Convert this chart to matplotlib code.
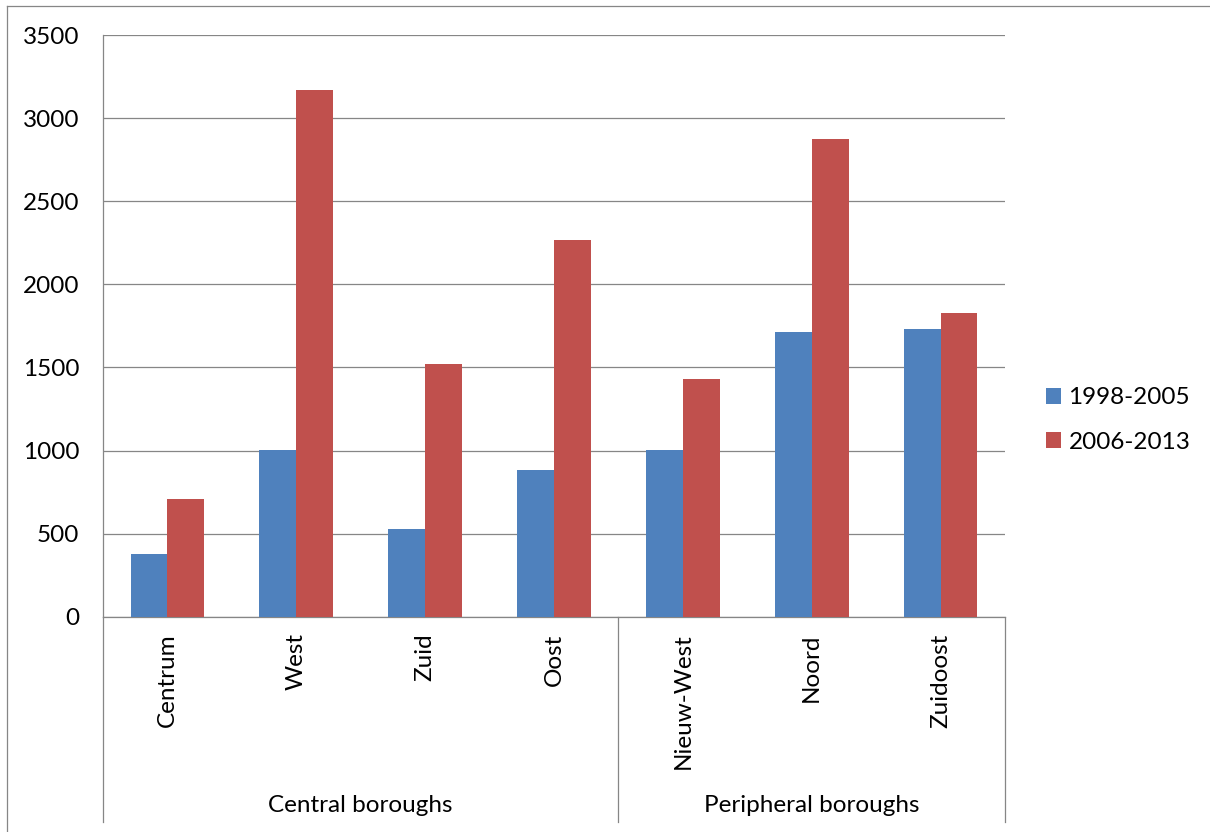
import matplotlib
matplotlib.use('Agg')
import matplotlib.pyplot as plt
import numpy as np
from matplotlib import transforms
from matplotlib.lines import Line2D

boroughs = ['Centrum', 'West', 'Zuid', 'Oost', 'Nieuw-West', 'Noord', 'Zuidoost']
groups = ['Central boroughs', 'Peripheral boroughs']
group_sizes = [4, 3]
series_names = ['1998-2005', '2006-2013']
v1998_2005 = [380, 1004, 530, 884, 1004, 1710, 1732]
v2006_2013 = [706, 3171, 1520, 2268, 1430, 2872, 1826]
yticks = [0, 500, 1000, 1500, 2000, 2500, 3000, 3500]

BLUE = '#4F81BD'
RED = '#C0504D'
GRID = '#868686'
FS = 17.5

plt.rcParams['font.family'] = ['Lato', 'DejaVu Sans']

W, H = 1210, 832
fig = plt.figure(figsize=(W / 100, H / 100), dpi=100)
x0, x1, y0, y1 = 103, 1005, 616.7, 35
ax = fig.add_axes([x0 / W, 1 - y0 / H, (x1 - x0) / W, (y0 - y1) / H])

x = np.arange(len(boroughs))
w = 1 / 3.5
ax.bar(x - w / 2, v1998_2005, w, color=BLUE, label=series_names[0], zorder=3)
ax.bar(x + w / 2, v2006_2013, w, color=RED, label=series_names[1], zorder=3)

ax.set_xlim(-0.5, len(boroughs) - 0.5)
ax.set_ylim(yticks[0], yticks[-1])
ax.set_yticks(yticks)
ax.set_yticklabels([str(t) for t in yticks], fontsize=FS)
ax.yaxis.grid(True, color=GRID, lw=0.9)
ax.set_axisbelow(True)
ax.tick_params(axis='y', length=0, pad=17)
ax.set_xticks(x)
ax.set_xticklabels(boroughs, rotation=90, fontsize=FS)
ax.tick_params(axis='x', length=0, pad=12)
for s in ['top', 'right']:
    ax.spines[s].set_visible(False)
ax.spines['left'].set_color(GRID)
ax.spines['left'].set_linewidth(0.9)
ax.spines['bottom'].set_color(GRID)
ax.spines['bottom'].set_linewidth(0.9)

# multi-level category axis
blend = transforms.blended_transform_factory(ax.transData, fig.transFigure)
bounds = np.concatenate([[0], np.cumsum(group_sizes)]) - 0.5
ytop_f = 1 - y0 / H
ybot_f = 1 - 822 / H
for b in bounds:
    fig.add_artist(Line2D([b, b], [ytop_f, ybot_f], transform=blend,
                          color=GRID, lw=0.9))
for g, a, b in zip(groups, bounds[:-1], bounds[1:]):
    fig.text((a + b) / 2, 1 - 806 / H, g, transform=blend, ha='center',
             va='center', fontsize=FS)

# outer chart frame (left and top)
fig.add_artist(Line2D([7 / W, 7 / W], [0, 1 - 6 / H], transform=fig.transFigure,
                      color=GRID, lw=0.9))
fig.add_artist(Line2D([7 / W, 1], [1 - 6 / H, 1 - 6 / H], transform=fig.transFigure,
                      color=GRID, lw=0.9))

ax.legend(loc='center left', bbox_to_anchor=(1034 / W, 1 - 420 / H),
          bbox_transform=fig.transFigure, frameon=False, fontsize=FS,
          handlelength=0.62, handleheight=0.62, handletextpad=0.3,
          labelspacing=0.95, borderpad=0)

fig.savefig('out.png', dpi=100, facecolor='white')
